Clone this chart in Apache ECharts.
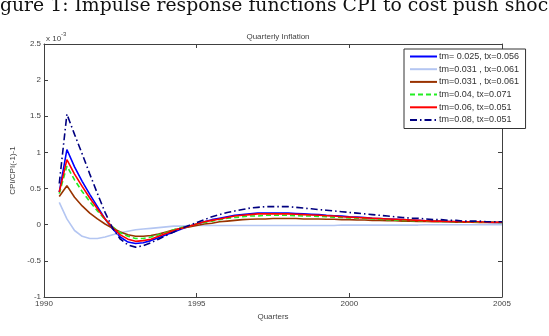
<!DOCTYPE html>
<html>
<head>
<meta charset="utf-8">
<script src="https://cdn.jsdelivr.net/npm/echarts@6/dist/echarts.min.js"></script>
<style>
  html, body { margin: 0; padding: 0; background: #fff; }
  #chart { width: 549px; height: 336px; }
</style>
</head>
<body>
<div id="chart"></div>
<script>
// quarters (x positions, years)
const quarters = [
  1990.5, 1990.75, 1991, 1991.25, 1991.5, 1991.75, 1992, 1992.25, 1992.5, 1992.75,
  1993, 1993.25, 1993.5, 1993.75, 1994, 1994.25, 1994.5, 1994.75, 1995, 1995.25,
  1995.5, 1995.75, 1996, 1996.25, 1996.5, 1996.75, 1997, 1997.25, 1997.5, 1997.75,
  1998, 1998.25, 1998.5, 1998.75, 1999, 1999.25, 1999.5, 1999.75, 2000, 2000.25,
  2000.5, 2000.75, 2001, 2001.25, 2001.5, 2001.75, 2002, 2002.25, 2002.5, 2002.75,
  2003, 2003.25, 2003.5, 2003.75, 2004, 2004.25, 2004.5, 2004.75, 2005
]

// series names (legend)
const names = [
  'tm= 0.025, tx=0.056',
  'tm=0.031 , tx=0.061',
  'tm=0.031 , tx=0.061 ',
  'tm=0.04, tx=0.071',
  'tm=0.06, tx=0.051',
  'tm=0.08, tx=0.051'
]

// values in units of 1e-3
const tm025 = [
  0.45, 1.04, 0.80, 0.60, 0.42, 0.25, 0.08, -0.06, -0.17, -0.24,
  -0.26, -0.25, -0.22, -0.18, -0.14, -0.10, -0.06, -0.02, 0.01, 0.04,
  0.07, 0.09, 0.11, 0.13, 0.14, 0.15, 0.16, 0.16, 0.16, 0.16,
  0.16, 0.155, 0.15, 0.145, 0.14, 0.13, 0.125, 0.12, 0.11, 0.105,
  0.10, 0.09, 0.085, 0.08, 0.075, 0.07, 0.065, 0.06, 0.055, 0.05,
  0.05, 0.045, 0.04, 0.04, 0.04, 0.035, 0.035, 0.03, 0.03
]
const tm031a = [
  0.31, 0.08, -0.08, -0.16, -0.19, -0.19, -0.17, -0.14, -0.11, -0.09,
  -0.07, -0.06, -0.05, -0.04, -0.03, -0.02, -0.02, -0.01, -0.01, -0.01,
  -0.01, -0.01, -0.01, -0.01, -0.01, -0.01, -0.01, -0.01, -0.01, -0.01,
  -0.01, -0.01, -0.01, -0.01, -0.01, -0.01, -0.01, -0.005, -0.005, -0.005,
  -0.005, -0.005, -0.005, -0.005, -0.005, -0.005, -0.005, -0.005, 0, 0,
  0, 0, 0, 0, 0, 0, 0, 0, 0
]
const tm031b = [
  0.39, 0.54, 0.38, 0.26, 0.16, 0.08, 0.01, -0.05, -0.10, -0.14,
  -0.16, -0.16, -0.15, -0.13, -0.10, -0.07, -0.05, -0.03, -0.01, 0.01,
  0.02, 0.04, 0.05, 0.06, 0.07, 0.075, 0.08, 0.08, 0.085, 0.085,
  0.085, 0.085, 0.08, 0.08, 0.08, 0.075, 0.075, 0.07, 0.07, 0.065,
  0.065, 0.06, 0.06, 0.055, 0.055, 0.05, 0.05, 0.045, 0.045, 0.04,
  0.04, 0.04, 0.035, 0.035, 0.035, 0.03, 0.03, 0.03, 0.03
]
const tm04 = [
  0.43, 0.81, 0.62, 0.46, 0.32, 0.19, 0.07, -0.03, -0.11, -0.16,
  -0.19, -0.19, -0.17, -0.14, -0.11, -0.07, -0.04, -0.02, 0.01, 0.03,
  0.05, 0.07, 0.09, 0.10, 0.11, 0.12, 0.12, 0.13, 0.13, 0.13,
  0.13, 0.125, 0.12, 0.12, 0.115, 0.11, 0.105, 0.10, 0.095, 0.09,
  0.085, 0.08, 0.075, 0.07, 0.065, 0.06, 0.06, 0.055, 0.05, 0.05,
  0.045, 0.045, 0.04, 0.04, 0.04, 0.035, 0.035, 0.035, 0.03
]
const tm06 = [
  0.45, 0.90, 0.70, 0.53, 0.37, 0.22, 0.08, -0.04, -0.14, -0.20,
  -0.23, -0.22, -0.20, -0.16, -0.12, -0.08, -0.05, -0.02, 0.01, 0.04,
  0.06, 0.08, 0.10, 0.12, 0.13, 0.14, 0.15, 0.15, 0.15, 0.15,
  0.15, 0.145, 0.14, 0.135, 0.13, 0.125, 0.12, 0.11, 0.105, 0.10,
  0.095, 0.09, 0.085, 0.08, 0.075, 0.07, 0.065, 0.06, 0.055, 0.05,
  0.05, 0.045, 0.045, 0.04, 0.04, 0.04, 0.035, 0.035, 0.035
]
const tm08 = [
  0.57, 1.53, 1.25, 0.98, 0.70, 0.43, 0.17, -0.05, -0.20, -0.28,
  -0.31, -0.29, -0.25, -0.20, -0.15, -0.10, -0.05, -0.01, 0.03, 0.07,
  0.11, 0.14, 0.17, 0.19, 0.21, 0.23, 0.24, 0.25, 0.25, 0.25,
  0.25, 0.24, 0.23, 0.22, 0.21, 0.20, 0.19, 0.18, 0.17, 0.16,
  0.15, 0.14, 0.13, 0.12, 0.11, 0.10, 0.09, 0.09, 0.08, 0.07,
  0.07, 0.06, 0.06, 0.05, 0.05, 0.05, 0.04, 0.04, 0.04
]

const yTicks = [-1, 2.5, 0.5]   // min, max, step
const xTicks = [1990, 2005, 5]

const seriesValues = [tm025, tm031a, tm031b, tm04, tm06, tm08]
const colors = ['#0000ff', '#b4c6f2', '#993300', '#22ee22', '#ff0000', '#000080']
const lineTypes = ['solid', 'solid', 'solid', [5, 3], 'solid', [7, 3, 1.5, 3]]

const chart = echarts.init(document.getElementById('chart'))

const axisColor = '#404040'
const labelStyle = { color: '#444', fontSize: 8, fontFamily: 'Liberation Sans' }

const option = {
  animation: false,
  backgroundColor: '#fff',
  textStyle: { fontFamily: 'Liberation Sans' },
  title: {
    text: 'Quarterly Inflation',
    left: 273,
    top: 28,
    textAlign: 'center',
    textStyle: { fontSize: 8, fontWeight: 'normal', color: '#444', fontFamily: 'Liberation Sans' }
  },
  graphic: [
    {
      type: 'text',
      left: 0,
      top: -3,
      style: {
        text: 'gure 1: Impulse response functions CPI to cost push shoc',
        font: '18.8px "DejaVu Serif"',
        fill: '#111'
      }
    },
    {
      type: 'text',
      left: 46,
      top: 31,
      style: {
        text: '{a|x 10}{b|-3}',
        rich: {
          a: { fontSize: 8, fill: '#444', fontFamily: 'Liberation Sans', padding: [4, 0, 0, 0] },
          b: { fontSize: 6, fill: '#444', fontFamily: 'Liberation Sans', verticalAlign: 'top' }
        }
      }
    }
  ],
  legend: {
    orient: 'vertical',
    left: 404,
    top: 49,
    width: 118,
    padding: [3, 4, 4, 5],
    itemGap: 3.7,
    itemWidth: 27,
    itemHeight: 10,
    backgroundColor: '#fff',
    borderColor: '#333',
    borderWidth: 1,
    borderRadius: 0,
    itemStyle: { color: 'transparent', borderWidth: 0, opacity: 0 },
    textStyle: { fontSize: 9, color: '#333', fontFamily: 'Liberation Sans', padding: [0, 0, 0, -3] },
    data: names
  },
  grid: { left: 44, right: 47, top: 44, bottom: 39 },
  xAxis: [
    {
      type: 'value',
      min: xTicks[0], max: xTicks[1], interval: xTicks[2],
      name: 'Quarters',
      nameLocation: 'middle',
      nameGap: 15,
      nameTextStyle: labelStyle,
      axisLine: { show: true, onZero: false, lineStyle: { color: axisColor, width: 1 } },
      axisTick: { show: true, inside: true, length: 4, lineStyle: { color: axisColor } },
      axisLabel: Object.assign({ margin: 3, formatter: v => String(v) }, labelStyle),
      splitLine: { show: false }
    },
    {
      type: 'value', position: 'top',
      min: xTicks[0], max: xTicks[1], interval: xTicks[2],
      axisLine: { show: true, onZero: false, lineStyle: { color: axisColor, width: 1 } },
      axisTick: { show: true, inside: true, length: 4, lineStyle: { color: axisColor } },
      axisLabel: { show: false },
      splitLine: { show: false }
    }
  ],
  yAxis: [
    {
      type: 'value',
      min: yTicks[0], max: yTicks[1], interval: yTicks[2],
      name: 'CPI/CPI(-1)-1',
      nameLocation: 'middle',
      nameGap: 21,
      nameRotate: 90,
      nameTextStyle: labelStyle,
      axisLine: { show: true, onZero: false, lineStyle: { color: axisColor, width: 1 } },
      axisTick: { show: true, inside: true, length: 4, lineStyle: { color: axisColor } },
      axisLabel: Object.assign({ margin: 3 }, labelStyle),
      splitLine: { show: false }
    },
    {
      type: 'value', position: 'right',
      min: yTicks[0], max: yTicks[1], interval: yTicks[2],
      axisLine: { show: true, onZero: false, lineStyle: { color: axisColor, width: 1 } },
      axisTick: { show: true, inside: true, length: 4, lineStyle: { color: axisColor } },
      axisLabel: { show: false },
      splitLine: { show: false }
    }
  ],
  series: names.map((name, i) => ({
    name: name,
    type: 'line',
    symbol: 'none',
    smooth: false,
    data: quarters.map((q, k) => [q, seriesValues[i][k]]),
    lineStyle: { color: colors[i], width: 1.6, type: lineTypes[i] },
    itemStyle: { color: colors[i] },
    z: 2 + i
  }))
}

chart.setOption(option)
</script>
</body>
</html>
